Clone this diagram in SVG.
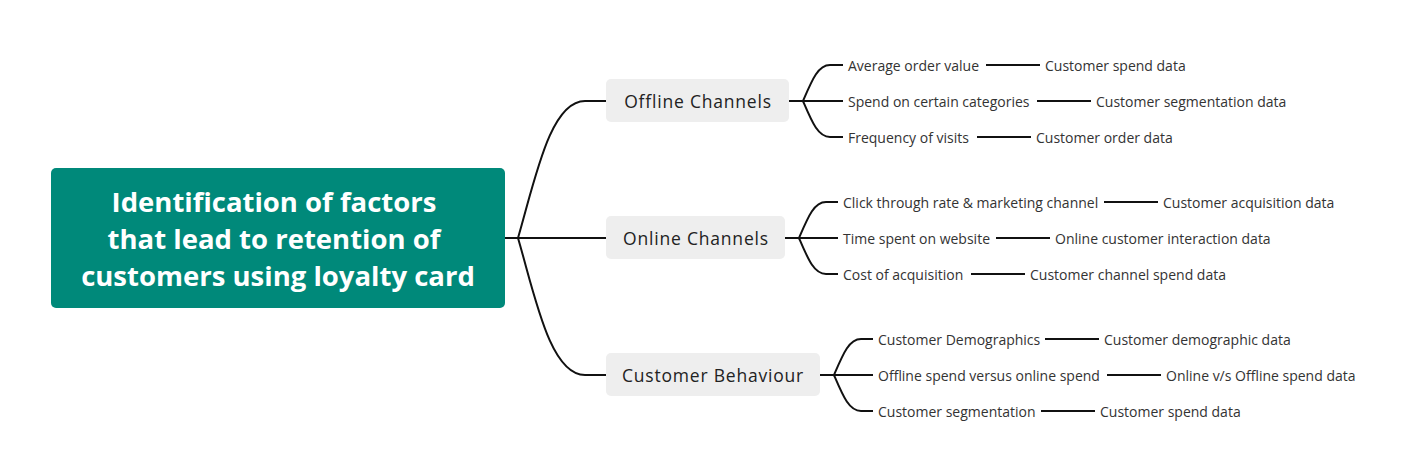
<svg xmlns="http://www.w3.org/2000/svg" width="1414" height="476" viewBox="0 0 1414 476">
<style>
.root{fill:#00897a}
.rt{font-family:"Open Sans","DejaVu Sans",sans-serif;font-weight:700;font-size:27.5px;fill:#fff;text-anchor:middle;dominant-baseline:central}
.mb{fill:#eeeeee}
.mt{font-family:"Open Sans","DejaVu Sans",sans-serif;font-weight:500;font-size:17.5px;letter-spacing:0.8px;fill:#222;text-anchor:middle;dominant-baseline:central}
.lt{font-family:"Open Sans","DejaVu Sans",sans-serif;font-size:14px;fill:#333;dominant-baseline:central}
.c{fill:none;stroke:#111;stroke-width:2}
</style>
<rect width="1414" height="476" fill="#fff"/>
<g id="connectors">
<path class="c" d="M505,238 H518"/>
<path class="c" d="M518,238 C535,180 550,101 585,101 H606"/>
<path class="c" d="M518,238 H606"/>
<path class="c" d="M518,238 C535,296 550,375 585,375 H606"/>
<path class="c" d="M789,101 H803 M803,101 C812,80 818,65 830,65 H843 M803,101 H843 M803,101 C812,122 818,137 830,137 H843"/>
<path class="c" d="M785,238 H799 M799,238 C808,217 814,202 826,202 H838 M799,238 H838 M799,238 C808,259 814,274 826,274 H838"/>
<path class="c" d="M820,375 H834 M834,375 C843,354 849,339 861,339 H873 M834,375 H873 M834,375 C843,396 849,411 861,411 H873"/>
<path class="c" d="M986,65 H1040 M1037,101 H1091 M977,137 H1031"/>
<path class="c" d="M1104,202 H1158 M996,238 H1050 M971,274 H1025"/>
<path class="c" d="M1045,339 H1099 M1107,375 H1161 M1041,411 H1095"/>
</g>
<g id="root">
<rect class="root" x="51" y="168" width="454" height="140" rx="5"/>
<text class="rt" x="274" y="201">Identification of factors</text>
<text class="rt" x="274" y="238">that lead to retention of</text>
<text class="rt" x="278" y="275">customers using loyalty card</text>
</g>
<g id="offline">
<rect class="mb" x="606" y="79" width="183" height="43" rx="5"/>
<text class="mt" x="698" y="101">Offline Channels</text>
</g>
<g id="online">
<rect class="mb" x="606" y="216" width="179" height="43" rx="5"/>
<text class="mt" x="696" y="238">Online Channels</text>
</g>
<g id="behaviour">
<rect class="mb" x="606" y="353" width="214" height="43" rx="5"/>
<text class="mt" x="713" y="375">Customer Behaviour</text>
</g>
<g id="offline-leaves">
<text class="lt" x="848" y="65">Average order value</text>
<text class="lt" x="1045" y="65">Customer spend data</text>
<text class="lt" x="848" y="101">Spend on certain categories</text>
<text class="lt" x="1096" y="101">Customer segmentation data</text>
<text class="lt" x="848" y="137">Frequency of visits</text>
<text class="lt" x="1036" y="137">Customer order data</text>
</g>
<g id="online-leaves">
<text class="lt" x="843" y="202">Click through rate &amp; marketing channel</text>
<text class="lt" x="1163" y="202">Customer acquisition data</text>
<text class="lt" x="843" y="238">Time spent on website</text>
<text class="lt" x="1055" y="238">Online customer interaction data</text>
<text class="lt" x="843" y="274">Cost of acquisition</text>
<text class="lt" x="1030" y="274">Customer channel spend data</text>
</g>
<g id="behaviour-leaves">
<text class="lt" x="878" y="339">Customer Demographics</text>
<text class="lt" x="1104" y="339">Customer demographic data</text>
<text class="lt" x="878" y="375">Offline spend versus online spend</text>
<text class="lt" x="1166" y="375">Online v/s Offline spend data</text>
<text class="lt" x="878" y="411">Customer segmentation</text>
<text class="lt" x="1100" y="411">Customer spend data</text>
</g>
</svg>
